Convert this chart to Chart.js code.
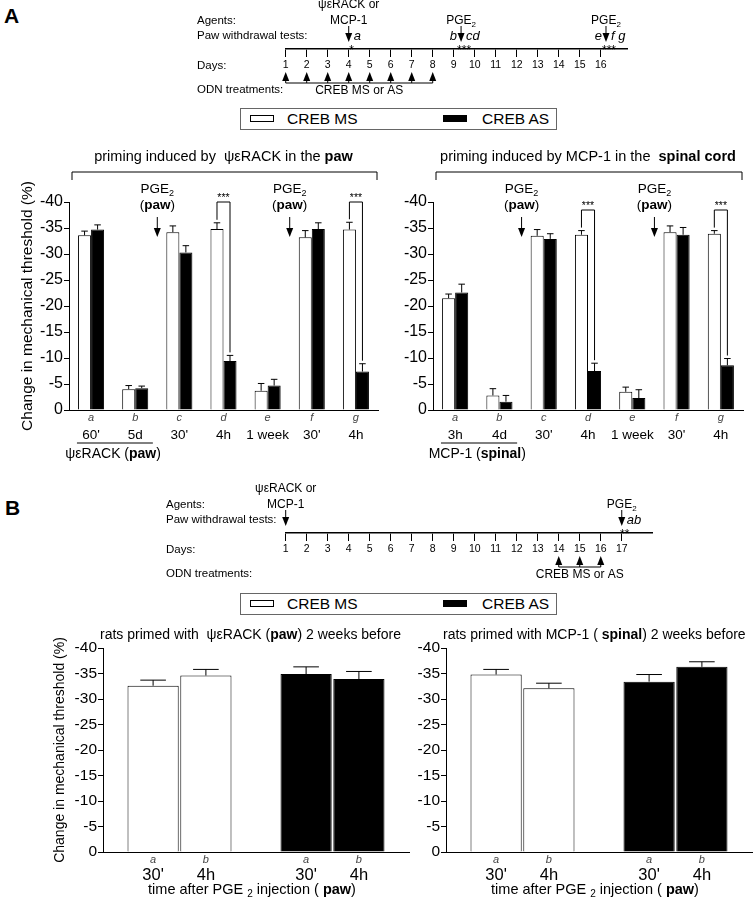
<!DOCTYPE html>
<html><head><meta charset="utf-8">
<script src="https://cdn.jsdelivr.net/npm/chart.js@4/dist/chart.umd.min.js"></script>
<style>
body{margin:0;background:#fff;}
#wrap{position:relative;width:754px;height:900px;overflow:hidden;font-family:'Liberation Sans',Arial,sans-serif;color:#000;background:#fff;}
canvas{position:absolute;}
.panel{position:absolute;font-weight:bold;font-size:21px;line-height:1;}
.legend{position:absolute;left:240px;width:317px;height:22px;box-sizing:border-box;border:1.5px solid #666;background:#fff;}
.sw{position:absolute;top:6px;width:24px;height:7px;box-sizing:border-box;border:1px solid #000;}
.lt{position:absolute;top:0;line-height:19px;font-size:15.5px;white-space:nowrap;}
</style></head>
<body><div id="wrap">
<div class="panel" style="left:4px;top:5px">A</div>
<div class="panel" style="left:5px;top:497px">B</div>
<canvas id="tlA" width="754" height="100" style="left:0;top:0;width:754px;height:100px"></canvas>
<div class="legend" style="top:108px">
  <div class="sw" style="left:8.5px;background:#fff"></div><span class="lt" style="left:46px">CREB MS</span>
  <div class="sw" style="left:201.5px;background:#000"></div><span class="lt" style="left:241px">CREB AS</span>
</div>
<canvas id="aL" width="380" height="330" style="left:0;top:140px;width:380px;height:330px"></canvas>
<canvas id="aR" width="380" height="330" style="left:374px;top:140px;width:380px;height:330px"></canvas>
<canvas id="tlB" width="754" height="110" style="left:0;top:480px;width:754px;height:110px"></canvas>
<div class="legend" style="top:593px">
  <div class="sw" style="left:8.5px;background:#fff"></div><span class="lt" style="left:46px">CREB MS</span>
  <div class="sw" style="left:201.5px;background:#000"></div><span class="lt" style="left:241px">CREB AS</span>
</div>
<canvas id="bL" width="440" height="290" style="left:0;top:610px;width:440px;height:290px"></canvas>
<canvas id="bR" width="344" height="290" style="left:410px;top:610px;width:344px;height:290px"></canvas>
</div>
<script>
// ---------- DATA ----------
// Panel A timeline
const dayTicksA = [1,2,3,4,5,6,7,8,9,10,11,12,13,14,15,16];
const agentDayA = 4;
const pgeDaysA = [9.35, 16.25];
const odnDaysA = [1,2,3,4,5,6,7,8];
// Panel B timeline
const dayTicksB = [1,2,3,4,5,6,7,8,9,10,11,12,13,14,15,16,17];
const agentDayB = 1;
const pgeDaysB = [17];
const odnDaysB = [14,15,16];

// Panel A bars
const categoriesA = ['a','b','c','d','e','f','g'];
const timeLabelsPaw = ["60'","5d","30'","4h","1 week","30'","4h"];
const timeLabelsSpinal = ["3h","4d","30'","4h","1 week","30'","4h"];
const pawMS     = [-33.6, -4.0, -34.2, -34.8, -3.7, -33.2, -34.7];
const pawMSerr  = [0.8, 0.7, 1.2, 1.2, 1.4, 1.3, 1.4];
const pawAS     = [-34.7, -4.2, -30.3, -9.4, -4.7, -34.8, -7.4];
const pawASerr  = [0.9, 0.4, 1.3, 1.1, 1.2, 1.2, 1.5];
const spinalMS    = [-21.5, -2.8, -33.5, -33.7, -3.5, -34.2, -33.9];
const spinalMSerr = [0.8, 1.3, 1.2, 0.8, 0.9, 1.2, 0.6];
const spinalAS    = [-22.6, -1.6, -32.9, -7.5, -2.3, -33.7, -8.6];
const spinalASerr = [1.6, 1.2, 1.0, 1.5, 1.6, 1.4, 1.3];
const sigCatsA = [3, 6];          // d and g
const pgeBetweenA = [1.5, 4.5];   // PGE2 injections between b|c and e|f

// Panel B bars
const groupsB = ['CREB MS','CREB AS'];
const letterB = ['a','b'];
const timesB = ["30'","4h"];
const bPaw30     = [-32.6, -34.9];
const bPaw30err  = [1.1, 1.4];
const bPaw4h     = [-34.6, -33.9];
const bPaw4herr  = [1.2, 1.5];
const bSpin30    = [-34.8, -33.4];
const bSpin30err = [1.0, 1.4];
const bSpin4h    = [-32.1, -36.3];
const bSpin4herr = [1.0, 1.0];

// ---------- HELPERS ----------
const FAM = "'Liberation Sans', Arial, Helvetica, sans-serif";
Chart.defaults.font.family = FAM;
Chart.defaults.color = '#000';

function drawRich(ctx, parts, x, y, align, size){
  const fontFor = p => `${p.i?'italic ':''}${p.b?'bold ':''}${p.sub?Math.round(size*0.68):size}px ${FAM}`;
  let total = 0;
  parts.forEach(p => { ctx.font = fontFor(p); p._w = ctx.measureText(p.t).width; total += p._w; });
  let cx = align === 'center' ? x - total/2 : (align === 'right' ? x - total : x);
  ctx.textAlign = 'left'; ctx.textBaseline = 'middle';
  parts.forEach(p => { ctx.font = fontFor(p); ctx.fillText(p.t, cx, p.sub ? y + size*0.3 : y); cx += p._w; });
}
function arrow(ctx, x, yFrom, yTo, head, hw){
  head = head || 7; hw = hw || 3.5;
  const dir = Math.sign(yTo - yFrom);
  ctx.beginPath(); ctx.moveTo(x, yFrom); ctx.lineTo(x, yTo - dir*head); ctx.stroke();
  ctx.beginPath(); ctx.moveTo(x, yTo); ctx.lineTo(x - hw, yTo - dir*(head+1)); ctx.lineTo(x + hw, yTo - dir*(head+1)); ctx.closePath(); ctx.fill();
}
function text(ctx, t, x, y, size, align, style, base){
  ctx.font = `${style||''} ${size}px ${FAM}`;
  ctx.textAlign = align || 'left'; ctx.textBaseline = base || 'middle';
  ctx.fillText(t, x, y);
}

const errorBars = {
  id:'errorBars',
  afterDatasetsDraw(chart){
    const ctx = chart.ctx, y = chart.scales.y;
    ctx.save(); ctx.strokeStyle = '#000'; ctx.lineWidth = 1;
    chart.data.datasets.forEach((ds, di) => {
      chart.getDatasetMeta(di).data.forEach((bar, i) => {
        const top = y.getPixelForValue(ds.data[i] - ds.errors[i]);
        const w = bar.width / 4;
        ctx.beginPath();
        ctx.moveTo(bar.x, bar.y); ctx.lineTo(bar.x, top);
        ctx.moveTo(bar.x - w, top); ctx.lineTo(bar.x + w, top);
        ctx.stroke();
      });
    });
    ctx.restore();
  }
};

// ---------- TIMELINES ----------
const timelinePlugin = {
  id:'timeline',
  afterDraw(chart, args, o){
    const {ctx, chartArea:ca, scales:{x}} = chart;
    const base = ca.bottom;
    ctx.save(); ctx.fillStyle = '#000'; ctx.strokeStyle = '#000'; ctx.lineWidth = 1;
    // row labels
    text(ctx, 'Agents:', o.labelX, base-28, 11.5);
    text(ctx, 'Paw withdrawal tests:', o.labelX, base-13, 11.5);
    text(ctx, 'Days:', o.labelX, base+17, 11.5);
    text(ctx, 'ODN treatments:', o.labelX, base+41, 11.5);
    // agent
    const ax = x.getPixelForValue(o.agentDay);
    text(ctx, 'ψεRACK or', ax, base-44, 12, 'center');
    text(ctx, 'MCP-1', ax, base-28, 12, 'center');
    arrow(ctx, ax, base-23, base-7, 8, 3.5);
    // PGE2
    o.pge.forEach(d => {
      const px = x.getPixelForValue(d);
      drawRich(ctx, [{t:'PGE'},{t:'2',sub:true}], px, base-28, 'center', 12);
      arrow(ctx, px, base-23, base-7, 8, 3.5);
    });
    // tests letters & stars
    o.tests.forEach(t => {
      const px = x.getPixelForValue(t.day);
      if (t.before) text(ctx, t.before, px-4, base-13, 13, 'right', 'italic');
      if (t.after) text(ctx, t.after, px+5, base-13, 13, 'left', 'italic');
      text(ctx, t.stars, px+3, base+5, 12, 'center', '', 'alphabetic');
    });
    // ODN treatments
    const odn = o.odn;
    odn.forEach(d => { arrow(ctx, x.getPixelForValue(d), base+34, base+23, 8, 3.5); });
    const x0 = x.getPixelForValue(odn[0]), x1 = x.getPixelForValue(odn[odn.length-1]);
    ctx.beginPath(); ctx.moveTo(x0, base+34); ctx.lineTo(x1, base+34); ctx.stroke();
    text(ctx, 'CREB MS or AS', (x0+x1)/2, base+42, 12, 'center');
    ctx.restore();
  }
};

function makeTimeline(id, ticks, maxDay, padRight, axisH, o){
  return new Chart(document.getElementById(id), {
    type:'scatter',
    data:{datasets:[{data:[]}]},
    options:{
      responsive:false, animation:false, events:[],
      layout:{padding:{left:285.7, right:padRight, top:0, bottom:0}},
      plugins:{legend:{display:false}, tooltip:{enabled:false}, timeline:o},
      scales:{
        x:{type:'linear', min:1, max:maxDay,
           afterBuildTicks:s => { s.ticks = ticks.map(v => ({value:v})); },
           ticks:{font:{size:10.5}, color:'#000', padding:2, maxRotation:0, autoSkip:false},
           grid:{drawOnChartArea:false, drawTicks:true, tickLength:8, color:'#000', lineWidth:1},
           border:{color:'#000', width:1.6},
           afterFit:s => { s.height = axisH; }},
        y:{display:false, min:0, max:1}
      }
    },
    plugins:[timelinePlugin]
  });
}

makeTimeline('tlA', dayTicksA, 17.25, 127, 51, {
  labelX:197, agentDay:agentDayA, pge:pgeDaysA, odn:odnDaysA,
  tests:[{day:agentDayA, before:'', after:'a', stars:'*'},
         {day:pgeDaysA[0], before:'b', after:'cd', stars:'***'},
         {day:pgeDaysA[1], before:'e', after:'f g', stars:'***'}]
});
makeTimeline('tlB', dayTicksB, 18.44, 102, 57, {
  labelX:166, agentDay:agentDayB, pge:pgeDaysB, odn:odnDaysB,
  tests:[{day:pgeDaysB[0], before:'', after:'ab', stars:'**'}]
});

// ---------- PANEL A CHARTS ----------
const annotA = {
  id:'annotA',
  afterDraw(chart, args, o){
    const {ctx, chartArea:ca, scales:{x, y}} = chart;
    ctx.save(); ctx.fillStyle = '#000'; ctx.strokeStyle = '#000'; ctx.lineWidth = 1;
    const cx = (ca.left + ca.right)/2;
    // bracket title
    drawRich(ctx, o.title, cx, ca.top-45, 'center', 14.5);
    ctx.beginPath(); ctx.moveTo(ca.left+3, ca.top-22); ctx.lineTo(ca.left+3, ca.top-30);
    ctx.lineTo(ca.right-1, ca.top-30); ctx.lineTo(ca.right-1, ca.top-22); ctx.stroke();
    // PGE2 (paw) arrows
    o.pge.forEach(p => {
      const px = x.getPixelForValue(p);
      drawRich(ctx, [{t:'PGE'},{t:'2',sub:true}], px, ca.top-13, 'center', 13.5);
      drawRich(ctx, [{t:'('},{t:'paw',b:true},{t:')'}], px, ca.top+3, 'center', 13.5);
      arrow(ctx, px, ca.top+15, ca.top+35, 8, 3.5);
    });
    // significance brackets
    const mMS = chart.getDatasetMeta(0).data, mAS = chart.getDatasetMeta(1).data;
    const dMS = chart.data.datasets[0], dAS = chart.data.datasets[1];
    o.sig.forEach(i => {
      const xl = mMS[i].x, xr = mAS[i].x, top = ca.top + o.sigTop;
      const yl = y.getPixelForValue(dMS.data[i] - dMS.errors[i]) - 3;
      const yr = y.getPixelForValue(dAS.data[i] - dAS.errors[i]) - 3;
      ctx.beginPath(); ctx.moveTo(xl, yl); ctx.lineTo(xl, top); ctx.lineTo(xr, top); ctx.lineTo(xr, yr); ctx.stroke();
      text(ctx, '***', (xl+xr)/2, top-1, 10.5, 'center', '', 'alphabetic');
    });
    // x labels
    chart.data.labels.forEach((l, i) => {
      const px = x.getPixelForValue(i);
      ctx.fillStyle = '#444';
      text(ctx, l, px, ca.bottom+8, 11, 'center', 'italic');
      ctx.fillStyle = '#000';
      text(ctx, o.times[i], px, ca.bottom+25, 13.5, 'center');
    });
    const ux0 = x.getPixelForValue(-0.32), ux1 = x.getPixelForValue(1.4);
    ctx.beginPath(); ctx.moveTo(ux0, ca.bottom+33); ctx.lineTo(ux1, ca.bottom+33); ctx.stroke();
    drawRich(ctx, o.group, x.getPixelForValue(0.5), ca.bottom+44, 'center', 14);
    // y title
    if (o.yTitle) {
      ctx.save(); ctx.translate(o.yTitleX, (ca.top+ca.bottom)/2); ctx.rotate(-Math.PI/2);
      drawRich(ctx, [{t:'Change in mechanical threshold (%)'}], 0, 0, 'center', 15.5);
      ctx.restore();
    }
    ctx.restore();
  }
};

function makeA(id, ms, msErr, as, asErr, opt){
  return new Chart(document.getElementById(id), {
    type:'bar',
    data:{labels:categoriesA, datasets:[
      {label:'CREB MS', data:ms, errors:msErr, backgroundColor:'#fff', borderColor:'#000', borderWidth:1, categoryPercentage:0.59, barPercentage:1},
      {label:'CREB AS', data:as, errors:asErr, backgroundColor:'#000', borderColor:'#000', borderWidth:1, categoryPercentage:0.59, barPercentage:1}
    ]},
    options:{
      responsive:false, animation:false, events:[],
      layout:{padding:{top:62, right:opt.padRight, left:0, bottom:0}},
      plugins:{legend:{display:false}, tooltip:{enabled:false}, annotA:opt.annot},
      scales:{
        x:{grid:{display:false}, border:{color:'#000', width:1}, ticks:{display:false}, afterFit:s => { s.height = 60; }},
        y:{min:-40, max:0, reverse:true,
           ticks:{stepSize:5, font:{size:16}, padding:1, color:'#000'},
           grid:{drawOnChartArea:false, drawTicks:true, tickLength:5, color:'#000'},
           border:{color:'#000', width:1},
           afterFit:s => { s.width = opt.yWidth; }}
      }
    },
    plugins:[errorBars, annotA]
  });
}

makeA('aL', pawMS, pawMSerr, pawAS, pawASerr, {yWidth:69, padRight:2, annot:{
  title:[{t:'priming induced by  ψεRACK in the '},{t:'paw',b:true}],
  pge:pgeBetweenA, sig:sigCatsA, sigTop:0, times:timeLabelsPaw,
  group:[{t:'ψεRACK ('},{t:'paw',b:true},{t:')'}], yTitle:true, yTitleX:28
}});
makeA('aR', spinalMS, spinalMSerr, spinalAS, spinalASerr, {yWidth:59, padRight:11, annot:{
  title:[{t:'priming induced by MCP-1 in the  '},{t:'spinal cord',b:true}],
  pge:pgeBetweenA, sig:sigCatsA, sigTop:8, times:timeLabelsSpinal,
  group:[{t:'MCP-1 ('},{t:'spinal',b:true},{t:')'}], yTitle:false
}});

// ---------- PANEL B CHARTS ----------
const annotB = {
  id:'annotB',
  afterDraw(chart, args, o){
    const {ctx, chartArea:ca} = chart;
    ctx.save(); ctx.fillStyle = '#000'; ctx.strokeStyle = '#000';
    drawRich(ctx, o.title, ca.left-3, ca.top-13, 'left', 14);
    chart.data.datasets.forEach((ds, di) => {
      chart.getDatasetMeta(di).data.forEach(bar => {
        ctx.fillStyle = '#444';
        text(ctx, letterB[di], bar.x, ca.bottom+8, 11, 'center', 'italic');
        ctx.fillStyle = '#000';
        text(ctx, timesB[di], bar.x, ca.bottom+23, 16.5, 'center');
      });
    });
    drawRich(ctx, [{t:'time after PGE '},{t:'2',sub:true},{t:' injection ( '},{t:'paw',b:true},{t:')'}],
             (ca.left+ca.right)/2-4, ca.bottom+38, 'center', 14.5);
    if (o.yTitle) {
      ctx.save(); ctx.translate(o.yTitleX, (ca.top+ca.bottom)/2); ctx.rotate(-Math.PI/2);
      drawRich(ctx, [{t:'Change in mechanical threshold (%)'}], 0, 0, 'center', 14);
      ctx.restore();
    }
    ctx.restore();
  }
};

function makeB(id, v30, e30, v4h, e4h, opt){
  const common = {backgroundColor:['#fff','#000'], borderColor:'#000', borderWidth:1, categoryPercentage:0.69, barPercentage:0.97};
  return new Chart(document.getElementById(id), {
    type:'bar',
    data:{labels:groupsB, datasets:[
      Object.assign({label:timesB[0], data:v30, errors:e30}, common),
      Object.assign({label:timesB[1], data:v4h, errors:e4h}, common)
    ]},
    options:{
      responsive:false, animation:false, events:[],
      layout:{padding:{top:38, right:opt.padRight, left:0, bottom:0}},
      plugins:{legend:{display:false}, tooltip:{enabled:false}, annotB:opt.annot},
      scales:{
        x:{grid:{display:false}, border:{color:'#000', width:1}, ticks:{display:false}, afterFit:s => { s.height = 48; }},
        y:{min:-40, max:0, reverse:true,
           ticks:{stepSize:5, font:{size:15.5}, padding:1, color:'#000'},
           grid:{drawOnChartArea:false, drawTicks:true, tickLength:5, color:'#000'},
           border:{color:'#000', width:1},
           afterFit:s => { s.width = opt.yWidth; }}
      }
    },
    plugins:[errorBars, annotB]
  });
}

makeB('bL', bPaw30, bPaw30err, bPaw4h, bPaw4herr, {yWidth:103, padRight:31, annot:{
  title:[{t:'rats primed with  ψεRACK ('},{t:'paw',b:true},{t:') 2 weeks before'}], yTitle:true, yTitleX:60
}});
makeB('bR', bSpin30, bSpin30err, bSpin4h, bSpin4herr, {yWidth:36, padRight:2, annot:{
  title:[{t:'rats primed with MCP-1 ( '},{t:'spinal',b:true},{t:') 2 weeks before'}], yTitle:false
}});
</script>
</body></html>
